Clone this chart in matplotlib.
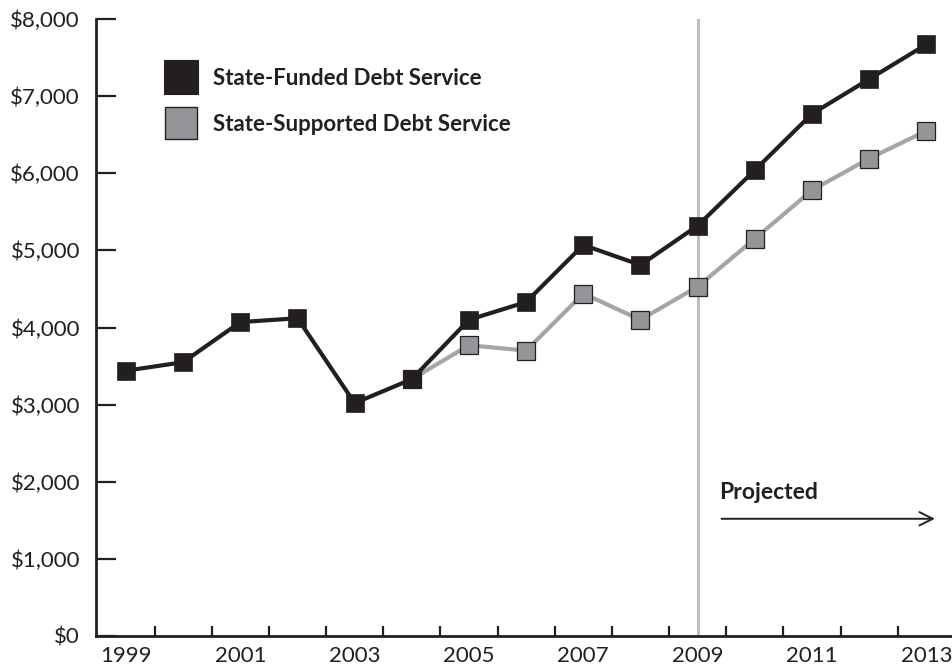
import matplotlib
matplotlib.use("Agg")
import matplotlib.pyplot as plt
from matplotlib.lines import Line2D
from matplotlib.ticker import FixedLocator, NullFormatter

# Debt service, millions of dollars
years = [1999, 2000, 2001, 2002, 2003, 2004, 2005, 2006, 2007, 2008, 2009, 2010, 2011, 2012, 2013]
state_funded = [3440, 3550, 4070, 4120, 3020, 3330, 4100, 4330, 5070, 4810, 5320, 6040, 6770, 7220, 7670]

supported_years = [2004, 2005, 2006, 2007, 2008, 2009, 2010, 2011, 2012, 2013]
state_supported = [3330, 3770, 3700, 4440, 4100, 4530, 5150, 5780, 6190, 6550]

y_ticks = [0, 1000, 2000, 3000, 4000, 5000, 6000, 7000, 8000]
y_tick_labels = ["$0", "$1,000", "$2,000", "$3,000", "$4,000", "$5,000", "$6,000", "$7,000", "$8,000"]
x_label_years = [1999, 2001, 2003, 2005, 2007, 2009, 2011, 2013]
projection_start = 2009

INK = "#231f20"
GRAY_FILL = "#939598"
GRAY_LINE = "#a3a5a8"
DIVIDER = "#bcbec0"

plt.rcParams["font.family"] = ["Lato", "DejaVu Sans"]

fig = plt.figure(figsize=(9.52, 6.66), dpi=100)
ax = fig.add_axes([96 / 952, 30 / 666, 1 - 96 / 952, (636 - 19) / 666])

ax.set_xlim(1998.475, 2013.45)
ax.set_ylim(0, 8000)

# boundary between actual and projected figures
ax.axvline(projection_start, color=DIVIDER, lw=2.2, zorder=1)

ax.plot(supported_years, state_supported, color=GRAY_LINE, lw=3.0, zorder=2,
        marker="s", markersize=12.5, markerfacecolor=GRAY_FILL,
        markeredgecolor=INK, markeredgewidth=0.9)
ax.plot(years, state_funded, color=INK, lw=3.0, zorder=3,
        marker="s", markersize=12.5, markerfacecolor=INK,
        markeredgecolor=INK, markeredgewidth=0.5)

# axes styling
for side in ("top", "right"):
    ax.spines[side].set_visible(False)
for side in ("left", "bottom"):
    ax.spines[side].set_linewidth(2.0)
    ax.spines[side].set_color(INK)

ax.set_yticks(y_ticks)
ax.set_yticklabels(y_tick_labels)
ax.tick_params(axis="y", direction="in", length=14.5, width=1.6, colors=INK,
               labelsize=16, pad=11.5, labelcolor=INK)

# tick marks sit between years, labels on odd years
ax.xaxis.set_major_locator(FixedLocator([y + 0.5 for y in range(1999, 2013)]))
ax.xaxis.set_major_formatter(NullFormatter())
ax.xaxis.set_minor_locator(FixedLocator(x_label_years))
ax.set_xticklabels([str(y) for y in x_label_years], minor=True)
ax.tick_params(axis="x", which="major", direction="in", length=7.5, width=1.6, color=INK)
ax.tick_params(axis="x", which="minor", length=0, labelsize=16, pad=7, labelcolor=INK)

# projection marker
ax.text(2009.37, 1855, "Projected", fontsize=16.5, fontweight="bold", color=INK,
        ha="left", va="center")
ax.annotate("", xy=(2013.2, 1520), xytext=(2009.37, 1520),
            arrowprops=dict(arrowstyle="->", color=INK, lw=1.4, mutation_scale=24))

handles = [
    Line2D([], [], linestyle="none", marker="s", markersize=24,
           markerfacecolor=INK, markeredgecolor=INK, markeredgewidth=0.8),
    Line2D([], [], linestyle="none", marker="s", markersize=23,
           markerfacecolor=GRAY_FILL, markeredgecolor=INK, markeredgewidth=1.0),
]
labels = ["State-Funded Debt Service", "State-Supported Debt Service"]
leg = ax.legend(handles, labels, loc="upper left", bbox_to_anchor=(153 / 952, 1 - 57 / 666),
                bbox_transform=fig.transFigure, frameon=False, borderpad=0,
                handlelength=1.5, handletextpad=0.7, labelspacing=1.13,
                prop={"family": ["Lato", "DejaVu Sans"], "weight": "bold", "size": 16})
for t in leg.get_texts():
    t.set_color(INK)

fig.savefig("out.png", dpi=100, facecolor="white")
